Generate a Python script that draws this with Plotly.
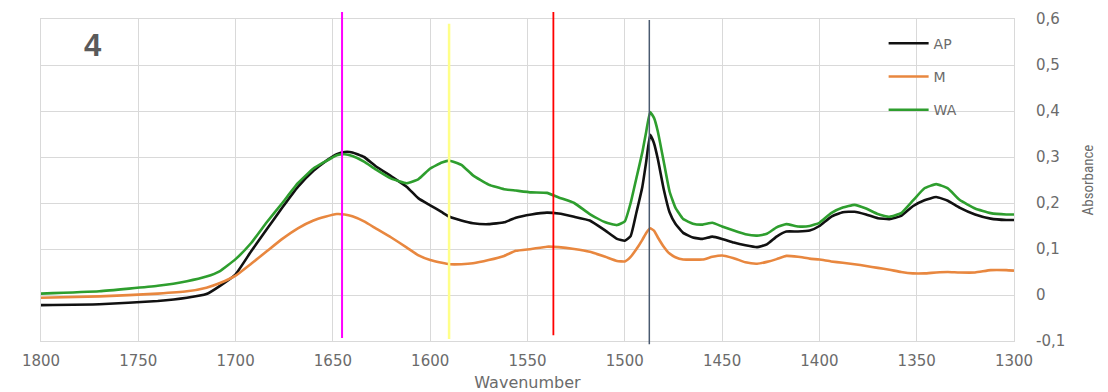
import plotly.graph_objects as go

# ---- data ----
wavenumber = [1800, 1770, 1740, 1725, 1715, 1708, 1700, 1692, 1684, 1676, 1668, 1660, 1654, 1648, 1644,
              1640, 1634, 1628, 1620, 1612, 1606, 1600, 1594, 1590, 1584, 1578, 1570, 1562, 1556, 1548,
              1540, 1534, 1526, 1518, 1510, 1504, 1500, 1497, 1494, 1491, 1489, 1487, 1485, 1483, 1480,
              1477, 1474, 1470, 1465, 1460, 1455, 1450, 1444, 1438, 1432, 1427, 1422, 1417, 1411, 1405,
              1400, 1394, 1388, 1382, 1376, 1370, 1364, 1358, 1352, 1346, 1340, 1334, 1328, 1320, 1312,
              1304, 1300]

ap = [-0.022, -0.020, -0.013, -0.006, 0.002, 0.020, 0.045, 0.095, 0.143, 0.190, 0.235, 0.270, 0.290, 0.306, 0.311,
      0.310, 0.300, 0.280, 0.258, 0.235, 0.210, 0.195, 0.180, 0.170, 0.162, 0.156, 0.154, 0.158, 0.168, 0.175,
      0.179, 0.177, 0.170, 0.162, 0.140, 0.122, 0.118, 0.128, 0.180, 0.235, 0.290, 0.348, 0.330, 0.295, 0.230,
      0.180, 0.155, 0.135, 0.125, 0.122, 0.127, 0.122, 0.114, 0.108, 0.104, 0.110, 0.127, 0.138, 0.138, 0.140,
      0.150, 0.170, 0.180, 0.181, 0.175, 0.167, 0.165, 0.172, 0.193, 0.206, 0.213, 0.205, 0.190, 0.175, 0.166,
      0.163, 0.163]

m = [-0.006, -0.003, 0.003, 0.008, 0.016, 0.026, 0.042, 0.068, 0.095, 0.122, 0.145, 0.162, 0.170, 0.176, 0.175,
     0.171, 0.160, 0.145, 0.125, 0.103, 0.086, 0.076, 0.070, 0.067, 0.067, 0.069, 0.076, 0.085, 0.096, 0.100,
     0.105, 0.104, 0.100, 0.094, 0.083, 0.074, 0.073, 0.083, 0.100, 0.120, 0.135, 0.145, 0.140, 0.125, 0.105,
     0.090, 0.082, 0.077, 0.077, 0.077, 0.083, 0.086, 0.080, 0.071, 0.068, 0.072, 0.078, 0.085, 0.083, 0.079,
     0.077, 0.073, 0.070, 0.067, 0.063, 0.059, 0.055, 0.050, 0.047, 0.047, 0.049, 0.050, 0.049, 0.049, 0.054,
     0.054, 0.053]

wa = [0.003, 0.008, 0.020, 0.030, 0.040, 0.052, 0.078, 0.113, 0.158, 0.200, 0.243, 0.275, 0.290, 0.304, 0.306,
      0.302, 0.290, 0.273, 0.253, 0.243, 0.252, 0.275, 0.288, 0.292, 0.283, 0.260, 0.240, 0.230, 0.227, 0.223,
      0.222, 0.212, 0.200, 0.176, 0.158, 0.152, 0.160, 0.200, 0.255, 0.310, 0.355, 0.398, 0.385, 0.355, 0.290,
      0.225, 0.190, 0.165, 0.155, 0.153, 0.157, 0.149, 0.140, 0.132, 0.129, 0.133, 0.147, 0.154, 0.149, 0.150,
      0.157, 0.178, 0.190, 0.196, 0.188, 0.176, 0.170, 0.178, 0.205, 0.232, 0.241, 0.232, 0.207, 0.188, 0.178,
      0.175, 0.175]

series_names = ["AP", "M", "WA"]
series_colors = ["#111111", "#E8873F", "#2E9E2E"]

marker_wavenumbers = [1645.3, 1590.3, 1536.7, 1487.4]
marker_colors = ["#FF00FF", "#FFFF88", "#FF0000", "#4A5A70"]
marker_widths = [2, 2.5, 1.8, 1.5]
marker_tops = [1.022, 0.985, 1.022, 0.997]      # paper coords
marker_bottoms = [0.009, 0.006, 0.018, -0.010]

y_tickvals = [-0.1, 0, 0.1, 0.2, 0.3, 0.4, 0.5, 0.6]
y_ticktext = ["-0,1", "0", "0,1", "0,2", "0,3", "0,4", "0,5", "0,6"]
x_tickvals = [1800, 1750, 1700, 1650, 1600, 1550, 1500, 1450, 1400, 1350, 1300]

FONT = "DejaVu Sans, Verdana, sans-serif"
GREY = "#6b6b6b"
GRID = "#D9D9D9"

fig = go.Figure()
for name, vals, col in zip(series_names, [ap, m, wa], series_colors):
    fig.add_trace(go.Scatter(
        x=wavenumber, y=vals, mode="lines", name=name, legendgroup=name,
        line=dict(color=col, width=2.6, shape="spline", smoothing=0.4),
    ))

for wn, col, w, top, bot in zip(marker_wavenumbers, marker_colors, marker_widths, marker_tops, marker_bottoms):
    fig.add_shape(type="line", xref="x", yref="paper", x0=wn, x1=wn, y0=bot, y1=top,
                  line=dict(color=col, width=w), layer="above")

fig.add_annotation(text="<b>4</b>", xref="paper", yref="paper", x=0.053, y=0.919,
                   xanchor="center", yanchor="middle", showarrow=False,
                   font=dict(family="Liberation Sans, Arial, sans-serif", size=31, color="#5a5a5a"))

# page body has an 8px default margin, so the figure is offset by (8, 8)
fig.update_layout(
    width=1100, height=384,
    margin=dict(l=33, r=94, t=11, b=51),
    paper_bgcolor="white", plot_bgcolor="white",
    font=dict(family=FONT, color=GREY),
    showlegend=True,
    legend=dict(x=0.866, y=0.973, xanchor="left", yanchor="top",
                bgcolor="rgba(0,0,0,0)", borderwidth=0,
                font=dict(family=FONT, size=14, color=GREY),
                tracegroupgap=12, itemwidth=40),
    xaxis=dict(range=[1800, 1300], tickvals=x_tickvals, showgrid=True, gridcolor=GRID, gridwidth=1,
               showline=True, linecolor=GRID, linewidth=1, mirror=True, zeroline=False, automargin=False,
               ticks="outside", ticklen=6, tickcolor="rgba(0,0,0,0)",
               tickfont=dict(family=FONT, size=15, color=GREY),
               title=dict(text="Wavenumber", font=dict(family=FONT, size=16, color=GREY), standoff=8)),
    yaxis=dict(range=[-0.1, 0.6], side="right", tickvals=y_tickvals, ticktext=y_ticktext,
               showgrid=True, gridcolor=GRID, gridwidth=1, zeroline=False, automargin=False,
               showline=True, linecolor=GRID, linewidth=1, mirror=True,
               ticks="outside", ticklen=18, tickcolor="rgba(0,0,0,0)",
               tickfont=dict(family=FONT, size=15, color=GREY),
               title=dict(text="Absorbance",
                          font=dict(family="Liberation Sans Narrow, Roboto Condensed, Roboto, sans-serif",
                                    size=15, color=GREY), standoff=18)),
)

fig.write_html("out.html")
